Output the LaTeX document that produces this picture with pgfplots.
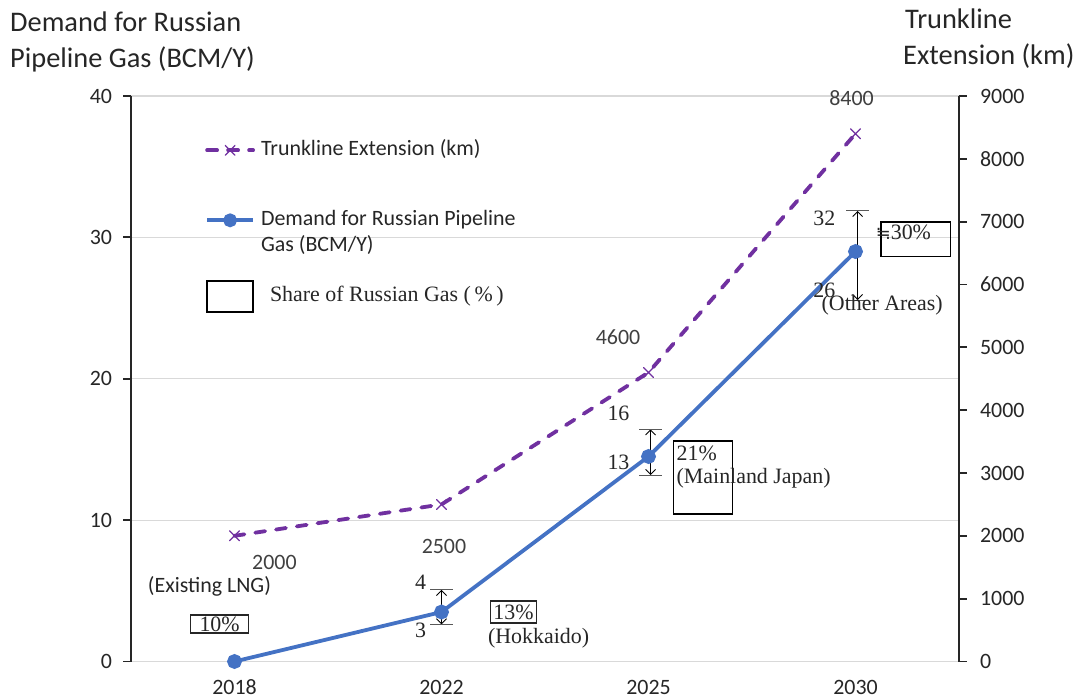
\documentclass[border=0pt]{standalone}
\usepackage{pgfplots}
\pgfplotsset{compat=1.18}
\usetikzlibrary{arrows.meta}
\usepackage{fontspec}
\setmainfont{Carlito}
\newfontfamily\serif{Liberation Serif}
\newfontfamily\symfont{DejaVu Sans}
\definecolor{trunk}{HTML}{7030A0}
\definecolor{demand}{HTML}{4472C4}
\definecolor{gridgray}{HTML}{D9D9D9}
\definecolor{txt}{HTML}{262626}
\definecolor{lbl}{HTML}{404040}

\tikzset{
  lab/.style={lbl, font=\fontsize{22}{26}\selectfont},
  ser/.style={txt, inner sep=0pt, font=\serif\fontsize{22}{26}\selectfont},
  rng/.style={line width=0.9bp, black, {Straight Barb[length=5bp,width=10bp]}-{Straight Barb[length=5bp,width=10bp]}},
  rcap/.style={line width=1bp, black!65},
  sbox/.style={draw=black, line width=1.5bp},
  ttl/.style={txt, anchor=base west, inner sep=0pt, font=\fontsize{28.5}{34}\selectfont},
}

\begin{document}
\begin{tikzpicture}
\path[use as bounding box] (-131bp,-38.5bp) rectangle (945bp,661.5bp);

% axis titles
\node[ttl] at (-121bp,630bp) {Demand for Russian};
\node[ttl] at (-121bp,594bp) {Pipeline Gas (BCM/Y)};
\node[ttl] at (774bp,633bp) {Trunkline};
\node[ttl] at (772bp,597bp) {Extension (km)};

\begin{axis}[
  scale only axis, width=828bp, height=565.5bp,
  xmin=-0.5, xmax=3.5, ymin=0, ymax=40,
  xtick={0,1,2,3}, xticklabels={2018,2022,2025,2030},
  ytick={0,10,...,40},
  axis y line*=left, axis x line*=bottom,
  x axis line style={draw=none},
  y axis line style={-, line width=1.8bp, txt},
  xtick style={draw=none},
  ytick style={line width=1.8bp, txt},
  tick align=outside, major tick length=7.5bp,
  ymajorgrids, grid style={gridgray, line width=1.2bp},
  ticklabel style={font=\fontsize{22}{26}\selectfont, text=txt},
  yticklabel style={xshift=-8bp},
  xticklabel style={yshift=-7.5bp},
  /pgf/number format/assume math mode=true,
  clip=false,
]
\addplot[demand, line width=3.8bp, mark=*, mark size=5.5bp] coordinates {(0,0) (1,3.5) (2,14.5) (3,29)};

% trunkline data labels
\node[lab] at (axis cs:0.193,6.97) {2000};
\node[lab] at (axis cs:1.012,8.17) {2500};
\node[lab] at (axis cs:1.853,22.95) {4600};
\node[lab] at (axis cs:2.981,39.86) {8400};

% 2018
\node[txt, font=\fontsize{22}{26}\selectfont] at (axis cs:-0.121,5.34) {(Existing LNG)};
\node[sbox, ser, minimum width=58bp, minimum height=18bp] at (axis cs:-0.072,2.65) {10\%};

% 2022
\draw[rng] (axis cs:1,2.63) -- (axis cs:1,5.06);
\draw[rcap] (axis cs:0.945,5.06) -- (axis cs:1.055,5.06);
\draw[rcap] (axis cs:0.945,2.63) -- (axis cs:1.055,2.63);
\node[ser] at (axis cs:0.899,5.62) {4};
\node[ser] at (axis cs:0.899,2.23) {3};
\node[sbox, ser, minimum width=46bp, minimum height=22bp] at (axis cs:1.348,3.50) {13\%};
\node[ser] at (axis cs:1.469,1.68) {(Hokkaido)};

% 2025
\draw[rng] (axis cs:2.01,13.19) -- (axis cs:2.01,16.42);
\draw[rcap] (axis cs:1.955,16.42) -- (axis cs:2.065,16.42);
\draw[rcap] (axis cs:1.955,13.19) -- (axis cs:2.065,13.19);
\node[ser] at (axis cs:1.855,17.58) {16};
\node[ser] at (axis cs:1.855,14.11) {13};
\draw[sbox] (axis cs:2.121,10.43) rectangle (axis cs:2.406,15.60);
\node[ser, anchor=west] at (axis cs:2.135,14.75) {21\%};
\node[ser, anchor=west] at (axis cs:2.135,12.98) {(Mainland Japan)};

% 2030
\draw[rng] (axis cs:3.01,25.57) -- (axis cs:3.01,31.87);
\draw[rcap] (axis cs:2.955,31.87) -- (axis cs:3.065,31.87);
\draw[rcap] (axis cs:2.955,25.57) -- (axis cs:3.065,25.57);
\node[ser] at (axis cs:2.850,31.37) {32};
\node[ser] at (axis cs:2.850,26.27) {26};
\draw[sbox] (axis cs:3.124,28.63) rectangle (axis cs:3.459,31.09);
\node[ser, anchor=west] at (axis cs:3.097,30.38) {{\symfont\fontsize{18}{22}\selectfont ≒}30\%};
\node[ser] at (axis cs:3.129,25.22) {(Other Areas)};
\end{axis}

\begin{axis}[
  scale only axis, width=828bp, height=565.5bp,
  xmin=-0.5, xmax=3.5, ymin=0, ymax=9000,
  hide x axis,
  axis y line*=right,
  ytick={0,1000,...,9000},
  y axis line style={-, line width=1.8bp, txt},
  ytick style={line width=1.8bp, txt},
  tick align=outside, major tick length=7.5bp,
  ticklabel style={font=\fontsize{22}{26}\selectfont, text=txt},
  yticklabel style={xshift=10bp},
  /pgf/number format/assume math mode=true,
  /pgf/number format/set thousands separator={},
  clip=false,
  legend image code/.code={\draw[mark repeat=2,mark phase=2,#1] plot coordinates {(0bp,0bp) (23bp,0bp) (46bp,0bp)};},
  legend cell align=left,
  legend style={at={(0.0894,0.922)}, anchor=north west, draw=none, fill=none,
    inner sep=0pt, row sep=50bp, column sep=6bp, text=txt,
    font=\fontsize{22}{26}\selectfont,
    nodes={inner sep=0pt, text height=15bp, text depth=5bp}},
]
\addplot[trunk, line width=3.8bp, dash pattern=on 10bp off 11bp, line cap=round,
  mark=x, mark size=7bp, mark options={solid, line width=1.2bp}]
  coordinates {(0,2000) (1,2500) (2,4600) (3,8400)};
\addlegendentry{Trunkline Extension (km)}
\addlegendimage{demand, line width=3.8bp, mark=*, mark size=5bp}
\addlegendentry{\begin{tabular}[t]{@{}l@{}}Demand for Russian Pipeline\\Gas (BCM/Y)\end{tabular}}
\addlegendimage{legend image code/.code={\draw[black, line width=1.3bp] (0bp,-15.5bp) rectangle (46bp,15.5bp);}}
\addlegendentry{\hspace*{9bp}{\serif Share of Russian Gas (\,\%\,)}}
\end{axis}
\end{tikzpicture}
\end{document}
